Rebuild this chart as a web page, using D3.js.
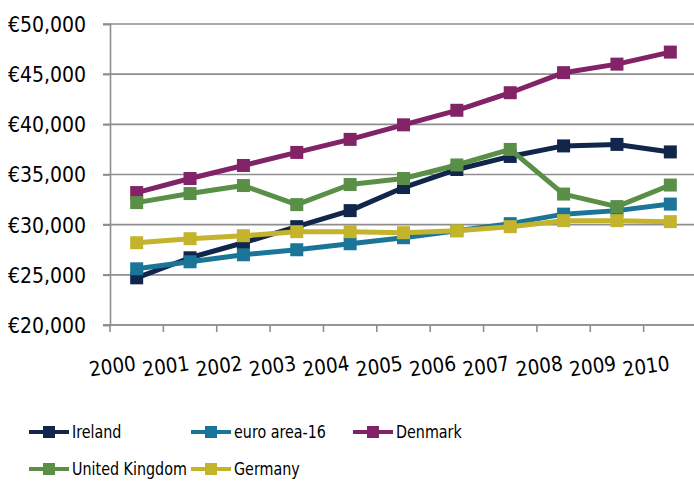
<!DOCTYPE html>
<html>
<head>
<meta charset="utf-8">
<script src="https://cdn.jsdelivr.net/npm/d3@7"></script>
<style>
  body { margin: 0; background: #fff; }
  svg text { font-family: "DejaVu Sans Condensed", "DejaVu Sans", sans-serif; fill: #000; }
</style>
</head>
<body>
<div class="chart"></div>
<script>
'use strict';

var YEARS = ['2000', '2001', '2002', '2003', '2004', '2005', '2006', '2007', '2008', '2009', '2010'];
var Y_TICKS = [20000, 25000, 30000, 35000, 40000, 45000, 50000];

var IRELAND = [24700, 26700, 28200, 29800, 31400, 33700, 35500, 36800, 37850, 38000, 37250];
var EURO_AREA = [25600, 26300, 27000, 27500, 28100, 28700, 29400, 30100, 31050, 31400, 32050];
var DENMARK = [33200, 34600, 35900, 37200, 38500, 39950, 41400, 43150, 45150, 46000, 47200];
var UK = [32200, 33100, 33900, 32000, 34000, 34600, 35950, 37500, 33050, 31800, 33950];
var GERMANY = [28200, 28600, 28900, 29300, 29300, 29200, 29400, 29800, 30400, 30400, 30300];

var SERIES = [
  { name: 'Ireland', values: IRELAND, color: '#12264b' },
  { name: 'euro area-16', values: EURO_AREA, color: '#1b7599' },
  { name: 'Denmark', values: DENMARK, color: '#822368' },
  { name: 'United Kingdom', values: UK, color: '#5a8f47' },
  { name: 'Germany', values: GERMANY, color: '#c4b42d' }
];

var WIDTH = 694, HEIGHT = 482;
var PLOT_LEFT = 110, PLOT_RIGHT = 697, PLOT_TOP = 24, PLOT_BOTTOM = 325;

var svg = d3.select('.chart').append('svg')
  .attr('width', WIDTH)
  .attr('height', HEIGHT);

var x = d3.scaleBand()
  .domain(YEARS)
  .range([PLOT_LEFT, PLOT_RIGHT]);

var y = d3.scaleLinear()
  .domain([20000, 50000])
  .range([PLOT_BOTTOM, PLOT_TOP]);

var euro = d3.format(',');

// gridlines
svg.append('g')
  .selectAll('line')
  .data(Y_TICKS)
  .enter()
  .append('line')
  .attr('x1', PLOT_LEFT - 7)
  .attr('x2', PLOT_RIGHT)
  .attr('y1', function(d) { return y(d); })
  .attr('y2', function(d) { return y(d); })
  .style('stroke', '#8e8e8e')
  .style('stroke-width', 1.6);

// y axis
var yAxis = svg.append('g')
  .attr('transform', 'translate(' + PLOT_LEFT + ',0)')
  .call(d3.axisLeft(y).tickValues(Y_TICKS).tickSize(7).tickPadding(17)
    .tickFormat(function(d) { return '€' + euro(d); }));
yAxis.select('.domain').style('stroke', '#8e8e8e').style('stroke-width', 1.6);
yAxis.selectAll('.tick line').style('stroke', '#8e8e8e').style('stroke-width', 1.6);
yAxis.selectAll('text')
  .style('font-size', '21px')
  .attr('dy', '0.35em');

// x axis: ticks between categories
var xAxisG = svg.append('g')
  .attr('transform', 'translate(0,' + PLOT_BOTTOM + ')');
xAxisG.append('line')
  .attr('x1', PLOT_LEFT - 7)
  .attr('x2', PLOT_RIGHT)
  .style('stroke', '#8e8e8e')
  .style('stroke-width', 1.6);
xAxisG.selectAll('line.tick')
  .data(YEARS)
  .enter()
  .append('line')
  .attr('class', 'tick')
  .attr('x1', function(d) { return x(d); })
  .attr('x2', function(d) { return x(d); })
  .attr('y1', 0)
  .attr('y2', 7)
  .style('stroke', '#8e8e8e')
  .style('stroke-width', 1.6);
xAxisG.selectAll('text')
  .data(YEARS)
  .enter()
  .append('text')
  .text(function(d) { return d; })
  .attr('text-anchor', 'end')
  .attr('transform', function(d) {
    return 'translate(' + (x(d) + x.bandwidth() / 2) + ',45) rotate(-8)';
  })
  .style('font-size', '20.5px');

// series lines
var line = d3.line()
  .x(function(d, i) { return x(YEARS[i]) + x.bandwidth() / 2; })
  .y(function(d) { return y(d); });

SERIES.forEach(function(s) {
  var g = svg.append('g');
  g.append('path')
    .attr('d', line(s.values))
    .style('fill', 'none')
    .style('stroke', s.color)
    .style('stroke-width', 5)
    .style('stroke-linejoin', 'round');
  g.selectAll('rect')
    .data(s.values)
    .enter()
    .append('rect')
    .attr('x', function(d, i) { return x(YEARS[i]) + x.bandwidth() / 2 - 6.5; })
    .attr('y', function(d) { return y(d) - 6.5; })
    .attr('width', 13)
    .attr('height', 13)
    .style('fill', s.color);
});

// legend
var LEGEND_POS = [[29, 432], [191, 432], [353, 432], [29, 469], [191, 469]];
var legend = svg.append('g');
SERIES.forEach(function(s, i) {
  var pos = LEGEND_POS[i];
  var item = legend.append('g')
    .attr('transform', 'translate(' + pos[0] + ',' + pos[1] + ')');
  item.append('line')
    .attr('x1', 0)
    .attr('x2', 40)
    .style('stroke', s.color)
    .style('stroke-width', 4);
  item.append('rect')
    .attr('x', 14)
    .attr('y', -6)
    .attr('width', 12)
    .attr('height', 12)
    .style('fill', s.color);
  // squeeze horizontally to match the narrow legend face
  item.append('text')
    .attr('transform', 'translate(43,0) scale(0.86,1)')
    .attr('dy', '0.35em')
    .text(s.name)
    .style('font-size', '18.5px');
});
</script>
</body>
</html>
